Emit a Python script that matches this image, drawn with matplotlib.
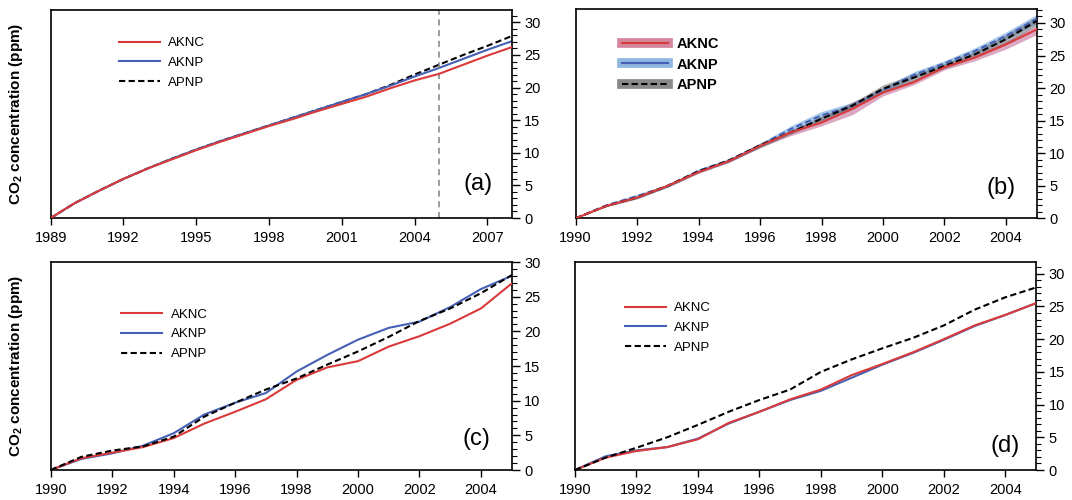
import numpy as np
import matplotlib
matplotlib.use("Agg")
import matplotlib.pyplot as plt
from matplotlib.lines import Line2D
from matplotlib.ticker import MultipleLocator

plt.rcParams['font.family'] = ['Liberation Sans', 'DejaVu Sans']
plt.rcParams['mathtext.default'] = 'regular'

# ---- panel (a): 1989-2008 ----
years_a = list(range(1989, 2009))
a_aknc = [0, 2.3, 4.2, 6.0, 7.6, 9.0, 10.4, 11.7, 12.9, 14.1, 15.2, 16.4, 17.5, 18.6, 19.9, 21.1, 22.1, 23.5, 24.9, 26.2]
a_aknp = [0, 2.3, 4.2, 6.0, 7.6, 9.1, 10.5, 11.8, 13.0, 14.2, 15.4, 16.6, 17.8, 19.0, 20.3, 21.7, 23.0, 24.4, 25.8, 27.1]
a_apnp = [0, 2.3, 4.2, 6.0, 7.6, 9.1, 10.5, 11.8, 13.0, 14.2, 15.4, 16.6, 17.8, 19.0, 20.4, 22.0, 23.5, 25.0, 26.4, 27.9]

# ---- panels (b)-(d): 1990-2005 ----
years = list(range(1990, 2006))
b_aknc = [0, 1.9, 3.2, 5.0, 7.1, 8.8, 11.1, 13.2, 14.7, 16.8, 19.3, 20.9, 23.2, 24.7, 26.7, 29.0]
b_aknp = [0, 2.0, 3.4, 5.0, 7.3, 8.9, 11.2, 13.7, 15.8, 17.3, 19.7, 22.0, 23.8, 25.7, 28.0, 30.6]
b_apnp = [0, 1.9, 3.2, 5.0, 7.2, 8.9, 11.2, 13.2, 15.3, 17.3, 19.9, 21.6, 23.4, 25.2, 27.5, 30.3]
b_aknc_lo = [0, 1.8, 3.0, 4.8, 6.9, 8.6, 10.9, 12.7, 14.2, 15.9, 18.8, 20.5, 22.8, 24.2, 26.0, 28.2]
b_aknc_hi = [0, 2.0, 3.4, 5.2, 7.3, 9.0, 11.3, 13.6, 15.3, 17.9, 19.7, 21.3, 23.6, 25.2, 27.2, 29.6]
b_aknp_lo = [0, 1.8, 3.1, 4.8, 7.0, 8.6, 10.9, 13.2, 15.2, 16.8, 19.3, 21.5, 23.4, 25.2, 27.4, 29.9]
b_aknp_hi = [0, 2.2, 3.7, 5.2, 7.6, 9.2, 11.5, 14.2, 16.4, 17.8, 20.1, 22.5, 24.2, 26.2, 28.6, 31.3]
b_apnp_lo = [0, 1.8, 3.0, 4.8, 7.0, 8.7, 10.8, 12.9, 14.9, 16.9, 19.3, 21.1, 23.0, 24.7, 26.8, 29.6]
b_apnp_hi = [0, 2.0, 3.4, 5.2, 7.4, 9.1, 11.6, 13.5, 15.7, 17.7, 20.5, 22.1, 23.8, 25.7, 28.2, 31.0]

c_aknc = [0, 1.7, 2.5, 3.3, 4.6, 6.7, 8.4, 10.2, 13.0, 14.8, 15.7, 17.8, 19.3, 21.1, 23.3, 26.9]
c_aknp = [0, 1.6, 2.4, 3.5, 5.3, 8.0, 9.7, 11.1, 14.2, 16.6, 18.8, 20.5, 21.4, 23.5, 26.1, 28.0]
c_apnp = [0, 1.9, 2.8, 3.4, 4.8, 7.7, 9.7, 11.6, 13.2, 15.2, 17.1, 19.2, 21.5, 23.3, 25.5, 28.1]

d_aknc = [0, 1.9, 2.9, 3.5, 4.7, 7.2, 8.9, 10.8, 12.3, 14.5, 16.2, 18.0, 20.0, 22.1, 23.7, 25.5]
d_aknp = [0, 2.1, 3.0, 3.5, 4.8, 7.1, 8.9, 10.7, 12.1, 14.1, 16.1, 17.9, 19.9, 22.0, 23.7, 25.5]
d_apnp = [0, 1.9, 3.4, 5.0, 6.9, 8.9, 10.7, 12.3, 15.0, 16.9, 18.6, 20.2, 22.1, 24.5, 26.4, 27.9]

labels = ['AKNC', 'AKNP', 'APNP']
RED = '#d93a3a'
BLUE = '#4560b4'
DASH = (3, 1.6)

fig = plt.figure(figsize=(10.72, 5.0), dpi=100)
ax_a = fig.add_axes([0.0473, 0.564, 0.430, 0.416])
ax_b = fig.add_axes([0.537, 0.5634, 0.430, 0.418])
ax_c = fig.add_axes([0.0473, 0.060, 0.430, 0.416])
ax_d = fig.add_axes([0.5364, 0.060, 0.430, 0.416])


def style(ax, xlim, ylim, xstep):
    ax.set_xlim(*xlim)
    ax.set_ylim(*ylim)
    ax.yaxis.tick_right()
    ax.yaxis.set_major_locator(MultipleLocator(5))
    ax.yaxis.set_minor_locator(MultipleLocator(1))
    ax.xaxis.set_major_locator(MultipleLocator(xstep))
    ax.tick_params(axis='y', which='major', direction='out', length=6, width=1,
                   labelsize=10.5, pad=3)
    ax.tick_params(axis='y', which='minor', direction='out', length=3.5, width=0.8)
    ax.tick_params(axis='x', which='major', direction='out', length=5, width=1,
                   labelsize=10.5, pad=4)
    for sp in ax.spines.values():
        sp.set_linewidth(1.2)


def tag(ax, text, x, y):
    ax.text(x, y, text, transform=ax.transAxes, fontsize=17, ha='right', va='center')


ylab = 'CO$_2$ concentration (ppm)'
leg_kw = dict(frameon=False, fontsize=9.5, handlelength=3.1, handletextpad=0.65,
              labelspacing=0.57, borderpad=0, borderaxespad=0)

# (a)
ax_a.plot(years_a, a_aknc, color=RED, lw=1.5, label=labels[0], zorder=3)
ax_a.plot(years_a, a_aknp, color=BLUE, lw=1.5, label=labels[1], zorder=2)
ax_a.plot(years_a, a_apnp, color='black', lw=1.5, dashes=DASH, label=labels[2], zorder=1)
ax_a.axvline(2005, color='#808080', lw=1.1, dashes=(4, 3))
style(ax_a, (1989, 2008), (0, 31.9), 3)
ax_a.set_ylabel(ylab, fontsize=11, fontweight='bold')
ax_a.yaxis.set_label_coords(-0.055, 0.5)
ax_a.legend(loc='upper left', bbox_to_anchor=(0.148, 0.87), **leg_kw)
tag(ax_a, '(a)', 0.958, 0.165)

# (b)
ax_b.fill_between(years, b_aknc_lo, b_aknc_hi, color='#b3407a', alpha=0.45, lw=0)
ax_b.fill_between(years, b_aknp_lo, b_aknp_hi, color='#5b9ad8', alpha=0.55, lw=0)
ax_b.fill_between(years, b_apnp_lo, b_apnp_hi, color='#5a5a5a', alpha=0.45, lw=0)
ax_b.plot(years, b_aknp, color=BLUE, lw=1.5, dashes=DASH, zorder=3)
ax_b.plot(years, b_apnp, color='black', lw=1.5, dashes=DASH, zorder=4)
ax_b.plot(years, b_aknc, color=RED, lw=1.5, zorder=5)
style(ax_b, (1990, 2005), (0, 32.1), 2)
hb = [
    (Line2D([], [], color='#d3869c', lw=7), Line2D([], [], color=RED, lw=1.5)),
    (Line2D([], [], color='#8fb6e0', lw=7), Line2D([], [], color=BLUE, lw=1.5)),
    (Line2D([], [], color='#8a8a8a', lw=7), Line2D([], [], color='black', lw=1.5, dashes=DASH)),
]
ax_b.legend(hb, labels, loc='upper left', bbox_to_anchor=(0.0998, 0.867), frameon=False,
            prop={'size': 10.5, 'weight': 'bold'},
            handlelength=3.2, handletextpad=0.55, labelspacing=0.44, borderpad=0, borderaxespad=0)
tag(ax_b, '(b)', 0.955, 0.144)

# (c)
ax_c.plot(years, c_aknp, color=BLUE, lw=1.5, label=labels[1], zorder=2)
ax_c.plot(years, c_aknc, color=RED, lw=1.5, label=labels[0], zorder=3)
ax_c.plot(years, c_apnp, color='black', lw=1.5, dashes=DASH, label=labels[2], zorder=4)
style(ax_c, (1990, 2005), (0, 30), 2)
ax_c.set_ylabel(ylab, fontsize=11, fontweight='bold')
ax_c.yaxis.set_label_coords(-0.055, 0.5)
h, l = ax_c.get_legend_handles_labels()
order = [1, 0, 2]
ax_c.legend([h[i] for i in order], [l[i] for i in order], loc='upper left',
            bbox_to_anchor=(0.153, 0.777), **leg_kw)
tag(ax_c, '(c)', 0.953, 0.149)

# (d)
ax_d.plot(years, d_aknp, color=BLUE, lw=1.5, label=labels[1], zorder=2)
ax_d.plot(years, d_aknc, color=RED, lw=1.5, label=labels[0], zorder=3)
ax_d.plot(years, d_apnp, color='black', lw=1.5, dashes=DASH, label=labels[2], zorder=4)
style(ax_d, (1990, 2005), (0, 31.8), 2)
h, l = ax_d.get_legend_handles_labels()
ax_d.legend([h[i] for i in order], [l[i] for i in order], loc='upper left',
            bbox_to_anchor=(0.108, 0.808), **leg_kw)
tag(ax_d, '(d)', 0.964, 0.116)

fig.savefig('out.png', dpi=100)
